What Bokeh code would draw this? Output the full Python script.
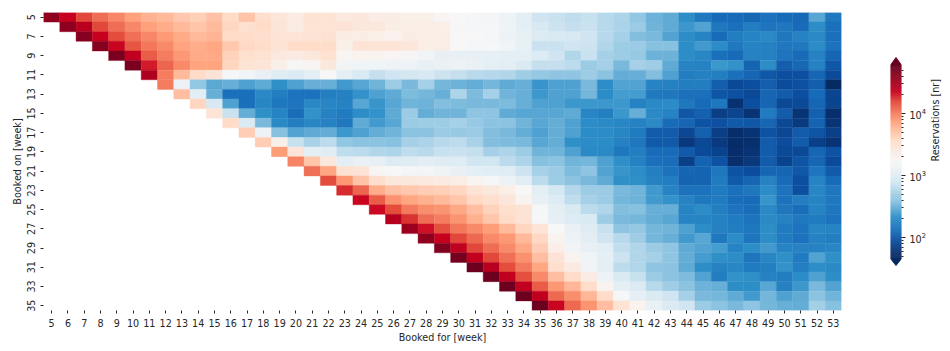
import math
import numpy as np
from bokeh.embed import file_html
from bokeh.resources import INLINE
from bokeh.layouts import row
from bokeh.models import ColumnDataSource, FixedTicker, LogColorMapper, Range1d, LogTickFormatter
from bokeh.plotting import figure
from bokeh.transform import transform

# values read from the picture as colour levels, one list per booking week,
# beginning at the diagonal (booked for == booked on)
row_05 = [462,440,420,405,393,382,373,370,362,358,366,352,364,349,341,335,345,345,337,340,333,333,330,330,325,322,320,318,314,305,290,287,282,286,278,274,262,246,240,220,207,198,197,192,202,198,196,237,207]
row_06 = [462,445,420,405,393,382,376,370,363,369,354,348,352,342,334,345,345,344,338,339,333,333,333,332,323,321,320,314,305,293,288,285,287,278,273,265,247,240,227,235,206,200,210,204,206,197,220,200]
row_07 = [465,440,418,403,393,385,377,369,372,352,351,349,344,343,344,346,333,333,330,328,333,332,332,322,322,320,313,307,297,295,293,290,278,270,255,252,235,220,214,198,210,214,218,206,213,218,200]
row_08 = [465,438,415,400,392,381,376,380,362,353,350,345,352,352,350,330,344,343,343,340,332,333,322,321,320,315,307,287,287,289,288,275,267,265,256,256,221,228,219,207,214,212,205,207,219,202]
row_09 = [470,442,412,397,386,377,378,357,348,346,337,336,340,347,325,328,327,325,324,316,308,308,308,306,305,305,298,289,276,287,270,267,264,245,245,221,215,200,198,213,212,204,198,213,192]
row_10 = [470,432,407,391,381,381,354,345,342,331,323,325,338,317,315,315,313,312,308,309,311,310,304,303,295,284,284,280,265,271,252,270,268,240,214,213,227,224,190,221,186,196,213,180]
row_11 = [450,398,369,352,344,320,316,308,300,296,305,322,304,294,285,290,292,293,288,285,279,277,276,268,263,261,260,267,259,242,244,255,233,209,212,210,200,192,180,172,172,192,168]
row_12 = [398,312,262,238,243,233,240,222,233,243,243,228,237,248,267,251,270,249,246,242,249,240,244,225,233,232,251,221,234,234,214,212,209,209,187,165,172,186,170,174,187,140]
row_13 = [367,303,243,200,200,218,209,203,202,211,212,223,232,239,254,250,244,274,253,271,247,244,226,232,232,249,219,230,229,207,206,200,200,178,173,165,192,184,172,197,163]
row_14 = [354,293,233,200,215,206,204,217,216,213,237,225,236,247,245,255,253,252,252,253,243,233,232,226,226,227,226,213,218,219,206,198,205,150,172,192,166,167,193,163]
row_15 = [343,287,241,222,214,199,224,213,208,220,224,240,266,241,247,247,260,261,240,236,236,236,240,215,211,227,243,218,214,180,189,158,163,152,208,184,152,188,148]
row_16 = [352,296,252,218,210,215,213,205,240,228,237,265,267,267,271,264,258,259,247,236,242,232,219,218,215,213,218,197,192,176,174,182,181,192,165,156,190,152]
row_17 = [360,313,256,234,240,242,226,232,242,247,259,259,266,264,265,255,251,241,233,241,232,219,219,215,208,184,184,164,188,158,148,151,175,164,185,179,160]
row_18 = [359,331,286,272,280,262,259,258,257,270,273,278,280,272,255,253,251,236,241,222,219,219,212,205,182,182,155,166,156,145,148,185,170,184,160,152]
row_19 = [384,342,304,301,282,281,275,274,282,279,286,287,285,271,274,267,247,247,232,218,218,205,211,198,198,182,168,162,146,152,185,168,166,192,175]
row_20 = [394,363,338,305,310,308,298,300,302,300,299,291,291,280,274,256,258,248,249,232,222,212,200,199,160,190,176,148,155,185,162,178,192,168]
row_21 = [403,380,346,344,324,322,318,318,314,308,305,301,300,288,270,265,254,261,235,225,221,211,202,192,190,206,176,170,193,192,180,204,182]
row_22 = [418,386,364,349,340,338,337,336,333,326,321,311,302,281,267,259,252,240,222,222,213,210,190,190,208,183,192,213,198,172,214,198]
row_23 = [428,407,376,366,362,359,358,354,344,338,332,322,305,292,277,267,265,251,248,228,214,202,202,208,200,206,219,203,172,215,206]
row_24 = [438,411,389,379,374,370,363,353,349,341,327,308,298,282,271,265,250,246,228,224,213,205,208,199,198,225,201,209,214,206]
row_25 = [437,418,399,390,387,378,367,357,348,345,321,304,294,280,275,255,256,243,243,214,219,211,203,199,218,205,199,214,205]
row_26 = [447,426,405,397,387,375,363,352,344,321,306,298,294,267,252,250,241,237,214,214,212,208,203,218,213,207,208,203]
row_27 = [457,435,417,400,392,384,370,354,343,322,310,300,286,261,263,249,247,232,221,212,209,205,220,208,203,215,214]
row_28 = [462,440,420,406,392,386,370,353,327,313,302,289,278,268,249,243,228,236,205,219,204,221,208,201,213,210]
row_29 = [468,443,420,404,391,378,359,332,316,308,302,283,275,266,261,239,234,229,214,221,228,214,213,213,215]
row_30 = [472,441,420,403,389,367,344,327,315,304,288,275,270,261,242,229,222,220,204,215,222,208,235,222]
row_31 = [475,445,419,399,380,349,336,316,304,281,275,261,259,240,220,213,215,208,211,224,209,221,218]
row_32 = [475,442,417,392,367,351,334,311,295,286,266,259,253,234,209,223,222,213,209,219,232,220]
row_33 = [475,442,411,386,371,351,327,304,297,278,268,259,245,243,220,221,237,212,226,252,235]
row_34 = [475,442,406,390,371,351,319,306,296,289,270,251,250,240,228,249,232,240,258,248]
row_35 = [475,438,406,388,367,345,328,310,296,291,265,258,252,260,250,243,241,269,256]

rows_read = [row_05,row_06,row_07,row_08,row_09,row_10,row_11,row_12,row_13,row_14,row_15,row_16,
             row_17,row_18,row_19,row_20,row_21,row_22,row_23,row_24,row_25,row_26,row_27,row_28,
             row_29,row_30,row_31,row_32,row_33,row_34,row_35]
booked_on = list(range(5, 36))
booked_for = list(range(5, 54))
y_tick_weeks = list(range(5, 36, 2))

# calibration of the read levels onto log10(reservations), taken from the colour bar
level_points = [140,150,165,172,198,208,220,232,260,291,322,353,385,420,440,478]
log_points = [1.68,1.76,1.92,1.96,2.11,2.20,2.32,2.42,2.60,2.90,3.23,3.59,3.90,4.20,4.36,4.78]

# colour bar stops: log10 position and colour
cb_log = [1.66,1.75,1.96,2.12,2.33,2.60,2.92,3.23,3.58,3.88,4.20,4.36,4.78]
cb_col = ["#062a60","#08306f","#0c4fa0","#1a6fbb","#2e8fc8","#8fc5e2","#d8e9f3","#f7f7f7","#ffdcc8","#ffa07a","#e34a3a","#c8001f","#67001f"]
V_LOW, V_HIGH = 1.66, 4.78

def hex_rgb(h):
    return [int(h[i:i+2], 16) for i in (1, 3, 5)]

grid = np.linspace(V_LOW, V_HIGH, 256)
rgb = np.array([hex_rgb(c) for c in cb_col], dtype=float)
palette = ["#%02x%02x%02x" % tuple(int(round(np.interp(g, cb_log, rgb[:, k]))) for k in range(3)) for g in grid]
mapper = LogColorMapper(palette=palette, low=10**V_LOW, high=10**V_HIGH)

xs, ys, vals = [], [], []
for week, levels in zip(booked_on, rows_read):
    for col, lv in zip(booked_for[booked_for.index(week):], levels):
        xs.append(col)
        ys.append(week)
        vals.append(10 ** float(np.interp(lv, level_points, log_points)))
src = ColumnDataSource(dict(x=xs, y=ys, v=vals))

FONT = "DejaVu Sans"
FS = "9.6px"
INK = "#262626"

p = figure(width=858, height=345, frame_width=798, frame_height=298,
           x_range=Range1d(4.5, 53.5), y_range=Range1d(35.5, 4.5),
           min_border_left=43, min_border_right=17, min_border_top=12, min_border_bottom=35,
           toolbar_location=None, output_backend="svg", outline_line_color=None)
p.grid.visible = False
p.rect("x", "y", width=1, height=1, source=src, fill_color=transform("v", mapper),
       line_color=transform("v", mapper), line_width=0.4)
p.xaxis.ticker = FixedTicker(ticks=booked_for)
p.yaxis.ticker = FixedTicker(ticks=y_tick_weeks)
p.yaxis.major_label_orientation = "vertical"
p.xaxis.axis_label = "Booked for [week]"
p.yaxis.axis_label = "Booked on [week]"
for ax in (p.xaxis[0], p.yaxis[0]):
    ax.axis_line_color = None
    ax.major_tick_line_color = INK
    ax.major_tick_out = 3
    ax.major_tick_in = 0
    ax.minor_tick_line_color = None
    ax.major_label_text_font = FONT
    ax.major_label_text_font_size = FS
    ax.major_label_text_color = INK
    ax.axis_label_text_font = FONT
    ax.axis_label_text_font_size = FS
    ax.axis_label_text_font_style = "normal"
    ax.axis_label_text_color = INK
p.xaxis[0].major_label_standoff = 5
p.xaxis[0].axis_label_standoff = 2
p.yaxis[0].major_label_standoff = 5
p.yaxis[0].axis_label_standoff = 2

# colour bar figure, sharing the heat map's frame height
ARROW_TOP, ARROW_BOTTOM = 4.903, 1.548
FRAME_TOP, FRAME_BOTTOM = 5.629, 0.823
cb = figure(width=84, height=345, frame_width=11, frame_height=298,
            x_range=Range1d(0, 1), y_range=Range1d(10**FRAME_BOTTOM, 10**FRAME_TOP), y_axis_type="log",
            y_axis_location="right", x_axis_location=None,
            min_border_left=32, min_border_right=41, min_border_top=12, min_border_bottom=35,
            toolbar_location=None, output_backend="svg", outline_line_color=None)
cb.grid.visible = False
edges = np.linspace(V_LOW, V_HIGH, 257)
cb.quad(left=0, right=1, bottom=10**edges[:-1], top=10**edges[1:], fill_color=palette, line_color=palette, line_width=0.4)
cb.patch([0, 0.5, 1], [10**V_HIGH, 10**ARROW_TOP, 10**V_HIGH], fill_color=palette[-1], line_color=palette[-1])
cb.patch([0, 0.5, 1], [10**V_LOW, 10**ARROW_BOTTOM, 10**V_LOW], fill_color=palette[0], line_color=palette[0])

bar_major = [100, 1000, 10000]
bar_minor = [50,60,70,80,90,200,300,400,500,600,700,800,900,2000,3000,4000,5000,6000,7000,8000,9000,20000,30000,40000,50000]
ay = cb.yaxis[0]
ay.ticker = FixedTicker(ticks=bar_major, minor_ticks=bar_minor)
ay.formatter = LogTickFormatter()
ay.axis_line_color = None
ay.major_tick_line_color = INK
ay.major_tick_out = 4
ay.major_tick_in = 0
ay.minor_tick_line_color = INK
ay.minor_tick_out = 2
ay.minor_tick_in = 0
ay.major_label_text_font = FONT
ay.major_label_text_font_size = FS
ay.major_label_text_color = INK
ay.major_label_standoff = 4
ay.axis_label = "Reservations [nr]"
ay.axis_label_orientation = math.pi / 2
ay.axis_label_text_font = FONT
ay.axis_label_text_font_size = FS
ay.axis_label_text_font_style = "normal"
ay.axis_label_text_color = INK
ay.axis_label_standoff = 7

page = row(p, cb)
open("out.html", "w").write(file_html(page, INLINE))
